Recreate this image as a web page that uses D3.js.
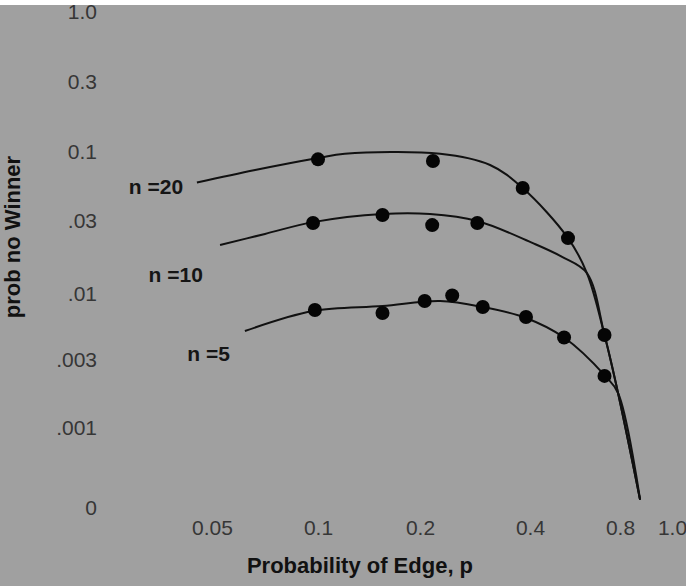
<!DOCTYPE html>
<html>
<head>
<meta charset="utf-8">
<script src="https://cdnjs.cloudflare.com/ajax/libs/d3/7.8.5/d3.min.js"></script>
<style>
  html, body { margin: 0; padding: 0; background: #fff; }
  svg { display: block; font-family: "Liberation Sans", Arial, sans-serif; }
</style>
</head>
<body>
<div id="chart"></div>
<script>
'use strict';

// axis ticks (the picture's tick labels are hand-placed, so scales are piecewise log)
const xTicks = [0.05, 0.1, 0.2, 0.4, 0.8, 1.0];
const xTickLabels = ['0.05', '0.1', '0.2', '0.4', '0.8', '1.0'];
const yTicks = [1, 0.3, 0.1, 0.03, 0.01, 0.003, 0.001, 0.0003];
const yTickLabels = ['1.0', '0.3', '0.1', '.03', '.01', '.003', '.001', '0'];

const seriesNames = ['n =20', 'n =10', 'n =5'];

// fitted curves, [p, prob]
const curveN20 = [[0.0453, 0.0587], [0.0663, 0.073], [0.1, 0.090], [0.120, 0.097], [0.227, 0.097],
  [0.311, 0.0797], [0.382, 0.0533], [0.536, 0.0232], [0.620, 0.0137], [0.71, 0.00473],
  [0.788, 0.00176], [0.872, 0.00034]];
const curveN10 = [[0.0527, 0.0209], [0.0707, 0.0247], [0.0968, 0.0295], [0.155, 0.0339], [0.213, 0.0339],
  [0.287, 0.030], [0.409, 0.0215], [0.512, 0.0175], [0.620, 0.0137], [0.71, 0.00473],
  [0.788, 0.00176], [0.872, 0.00034]];
const curveN5 = [[0.062, 0.00509], [0.0968, 0.00733], [0.155, 0.00803], [0.227, 0.0088],
  [0.297, 0.00789], [0.39, 0.00646], [0.52, 0.00452], [0.71, 0.00235], [0.788, 0.00176],
  [0.872, 0.00034]];

// simulated points, [p, prob]
const dotsN20 = [[0.1, 0.088], [0.217, 0.0855], [0.382, 0.0533], [0.536, 0.0232]];
const dotsN10 = [[0.0968, 0.0291], [0.155, 0.0333], [0.216, 0.0282], [0.287, 0.0291], [0.71, 0.00473]];
const dotsN5 = [[0.098, 0.00747], [0.155, 0.00707], [0.206, 0.0088], [0.245, 0.00973], [0.297, 0.00789],
  [0.39, 0.00657], [0.52, 0.00452], [0.71, 0.00232]];

// where each series label sits (right end), [p, prob]
const labelAt = [[0.0414, 0.0543], [0.0471, 0.0133], [0.0562, 0.00335]];

function makeChart(containerSelector) {
  var width = 686;
  var height = 586;

  var svg = d3.select(containerSelector)
              .append('svg')
              .attr('width', width)
              .attr('height', height);

  svg.append('rect')
     .attr('width', width)
     .attr('height', height)
     .attr('fill', '#a0a0a0');

  var x = d3.scaleLog()
            .domain(xTicks)
            .range([212, 318, 420, 530, 620, 672]);
  var y = d3.scaleLog()
            .domain(yTicks)
            .range([12, 82, 152, 221, 294, 360, 428, 508]);

  // axes: labels only, no lines
  var yAxis = d3.axisLeft(y)
                .tickValues(yTicks)
                .tickFormat(function(d, i) { return yTickLabels[i]; })
                .tickSize(0)
                .tickPadding(0);
  var xAxis = d3.axisBottom(x)
                .tickValues(xTicks)
                .tickFormat(function(d, i) { return xTickLabels[i]; })
                .tickSize(0)
                .tickPadding(0);

  var gy = svg.append('g')
              .attr('transform', 'translate(97,0)')
              .call(yAxis);
  var gx = svg.append('g')
              .attr('transform', 'translate(0,520)')
              .call(xAxis);

  [gx, gy].forEach(function(g) {
    g.select('.domain').remove();
    g.selectAll('text')
     .attr('fill', '#363636')
     .style('font-size', '21px')
     .style('font-family', '"Liberation Sans", Arial, sans-serif');
  });

  var line = d3.line()
               .x(function(d) { return x(d[0]); })
               .y(function(d) { return y(d[1]); })
               .curve(d3.curveCatmullRom.alpha(0.5));

  var curves = [curveN20, curveN10, curveN5];
  var dots = [dotsN20, dotsN10, dotsN5];

  svg.selectAll('.curve')
     .data(curves)
     .enter().append('path')
       .attr('class', 'curve')
       .attr('d', line)
       .attr('fill', 'none')
       .attr('stroke', '#111')
       .attr('stroke-width', 2);

  svg.selectAll('.serie')
     .data(dots)
     .enter().append('g')
       .attr('class', 'serie')
       .selectAll('circle')
       .data(function(d) { return d; })
     .enter().append('circle')
       .attr('cx', function(d) { return x(d[0]); })
       .attr('cy', function(d) { return y(d[1]); })
       .attr('r', 7)
       .attr('fill', '#050505');

  svg.selectAll('.nlabel')
     .data(seriesNames)
     .enter().append('text')
       .attr('class', 'nlabel')
       .attr('x', function(d, i) { return x(labelAt[i][0]); })
       .attr('y', function(d, i) { return y(labelAt[i][1]); })
       .attr('dy', '0.35em')
       .attr('text-anchor', 'end')
       .attr('fill', '#151515')
       .style('font-size', '21px')
       .style('font-weight', 'bold')
       .text(function(d) { return d; });

  // axis titles
  svg.append('text')
     .attr('x', 360)
     .attr('y', 573)
     .attr('text-anchor', 'middle')
     .attr('fill', '#111')
     .style('font-size', '22px')
     .style('font-weight', 'bold')
     .text('Probability of Edge, p');

  svg.append('text')
     .attr('transform', 'translate(20,237) rotate(-90)')
     .attr('text-anchor', 'middle')
     .attr('fill', '#111')
     .style('font-size', '22px')
     .style('font-weight', 'bold')
     .text('prob no Winner');

  // white strip along the top edge of the scan
  svg.append('rect')
     .attr('width', width)
     .attr('height', 5)
     .attr('fill', '#fff');
}

makeChart('#chart');
</script>
</body>
</html>
